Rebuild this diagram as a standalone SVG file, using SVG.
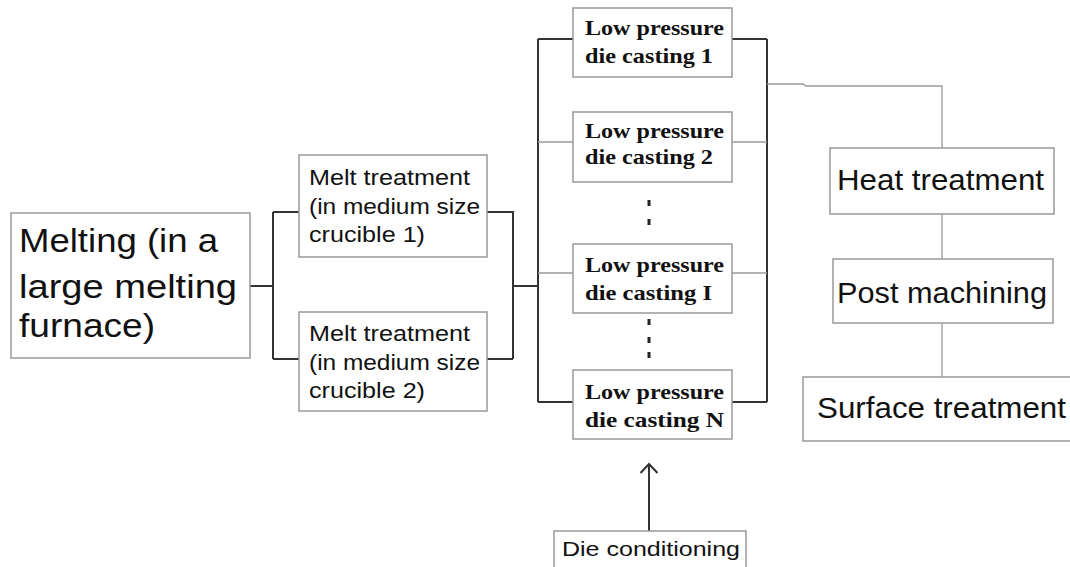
<svg xmlns="http://www.w3.org/2000/svg" width="1070" height="567" viewBox="0 0 1070 567">
<defs>
<style>
.box{fill:#fff;stroke:#999;stroke-width:1.5}
.thick{fill:none;stroke:#333;stroke-width:2}
.thin{fill:none;stroke:#999;stroke-width:1.3}
.sans{font-family:"Liberation Sans",Arial,sans-serif;fill:#111}
.serif{font-family:"Liberation Serif","Times New Roman",serif;font-weight:bold;font-size:21px;fill:#111}
.dot{fill:#222}
</style>
</defs>
<rect width="1070" height="567" fill="#fff"/>
<g id="connectors">
<path class="thick" d="M250,286 H273 M273,212 V359 M273,212 H299 M273,359 H299"/>
<path class="thick" d="M487,212 H513 V359 M487,359 H513 M513,286 H537"/>
<path class="thick" d="M538,39 V402 M767,39 V402 M538,39 H573 M732,39 H767 M538,402 H573 M732,402 H767"/>
<path class="thin" d="M538,142 H573 M732,142 H767 M538,273 H573 M732,273 H767"/>
<path class="thin" d="M767,84 H803 L806,86 H942 V148 M942,214 V259 M942,323 V377"/>
<path class="thick" stroke-width="1.8" d="M649,531 V464 M640.5,473 L649,464 L657.5,473"/>
</g>
<g id="dots">
<rect class="dot" x="647.5" y="200" width="3" height="6"/>
<rect class="dot" x="647.5" y="219" width="3" height="6"/>
<rect class="dot" x="647.5" y="319" width="3" height="6"/>
<rect class="dot" x="647.5" y="337" width="3" height="6"/>
<rect class="dot" x="647.5" y="352" width="3" height="6"/>
</g>
<g id="melting">
<rect class="box" x="11" y="213" width="239" height="145"/>
<text class="sans" font-size="33"><tspan x="19" y="252" textLength="199" lengthAdjust="spacingAndGlyphs">Melting (in a</tspan><tspan x="19" y="298" textLength="218" lengthAdjust="spacingAndGlyphs">large melting</tspan><tspan x="19" y="337" textLength="136" lengthAdjust="spacingAndGlyphs">furnace)</tspan></text>
</g>
<g id="melt1">
<rect class="box" x="299" y="155" width="188" height="102"/>
<text class="sans" font-size="22"><tspan x="309" y="185" textLength="161" lengthAdjust="spacingAndGlyphs">Melt treatment</tspan><tspan x="309" y="214" textLength="171" lengthAdjust="spacingAndGlyphs">(in medium size</tspan><tspan x="309" y="242" textLength="116" lengthAdjust="spacingAndGlyphs">crucible 1)</tspan></text>
</g>
<g id="melt2">
<rect class="box" x="299" y="312" width="188" height="99"/>
<text class="sans" font-size="22"><tspan x="309" y="341" textLength="161" lengthAdjust="spacingAndGlyphs">Melt treatment</tspan><tspan x="309" y="370" textLength="171" lengthAdjust="spacingAndGlyphs">(in medium size</tspan><tspan x="309" y="398" textLength="116" lengthAdjust="spacingAndGlyphs">crucible 2)</tspan></text>
</g>
<g id="lpdc1">
<rect class="box" x="573" y="8" width="159" height="69"/>
<text class="serif"><tspan x="585" y="35" textLength="139" lengthAdjust="spacingAndGlyphs">Low pressure</tspan><tspan x="585" y="63" textLength="128" lengthAdjust="spacingAndGlyphs">die casting 1</tspan></text>
</g>
<g id="lpdc2">
<rect class="box" x="573" y="112" width="159" height="70"/>
<text class="serif"><tspan x="585" y="138" textLength="139" lengthAdjust="spacingAndGlyphs">Low pressure</tspan><tspan x="585" y="164" textLength="128" lengthAdjust="spacingAndGlyphs">die casting 2</tspan></text>
</g>
<g id="lpdcI">
<rect class="box" x="573" y="244" width="159" height="69"/>
<text class="serif"><tspan x="585" y="272" textLength="139" lengthAdjust="spacingAndGlyphs">Low pressure</tspan><tspan x="585" y="300" textLength="127" lengthAdjust="spacingAndGlyphs">die casting I</tspan></text>
</g>
<g id="lpdcN">
<rect class="box" x="573" y="370" width="159" height="69"/>
<text class="serif"><tspan x="585" y="399" textLength="139" lengthAdjust="spacingAndGlyphs">Low pressure</tspan><tspan x="585" y="427" textLength="139" lengthAdjust="spacingAndGlyphs">die casting N</tspan></text>
</g>
<g id="heat">
<rect class="box" x="830" y="148" width="224" height="66"/>
<text class="sans" font-size="30" x="837" y="190" textLength="207" lengthAdjust="spacingAndGlyphs">Heat treatment</text>
</g>
<g id="post">
<rect class="box" x="833" y="259" width="220" height="64"/>
<text class="sans" font-size="30" x="837" y="303" textLength="210" lengthAdjust="spacingAndGlyphs">Post machining</text>
</g>
<g id="surface">
<rect class="box" x="803" y="377" width="280" height="64"/>
<text class="sans" font-size="30" x="817" y="418" textLength="249" lengthAdjust="spacingAndGlyphs">Surface treatment</text>
</g>
<g id="die">
<rect class="box" x="554" y="531" width="192" height="50"/>
<text class="sans" font-size="21" x="562" y="556" textLength="178" lengthAdjust="spacingAndGlyphs">Die conditioning</text>
</g>
</svg>
